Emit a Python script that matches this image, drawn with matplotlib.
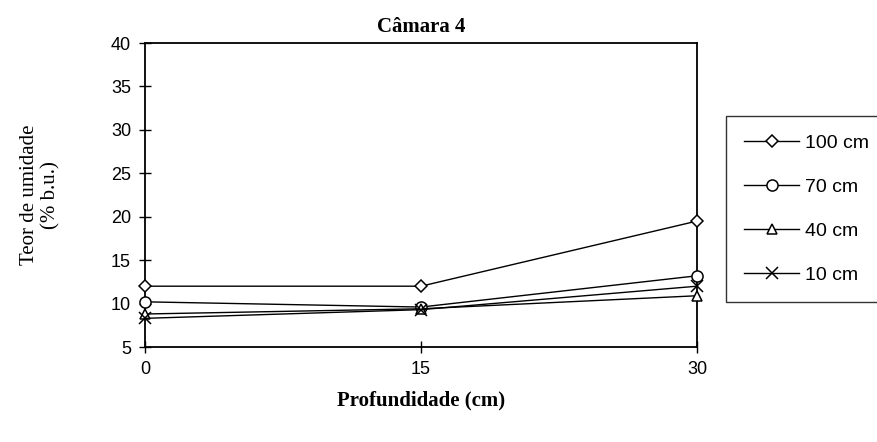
import numpy as np
import matplotlib.pyplot as plt

# dados
profundidade = [0, 15, 30]
series_labels = ['100 cm', '70 cm', '40 cm', '10 cm']
umid_100 = [12.0, 12.0, 19.5]
umid_70 = [10.2, 9.6, 13.2]
umid_40 = [8.8, 9.4, 10.9]
umid_10 = [8.3, 9.3, 12.0]
markers = ['D', 'o', '^', 'x']
marker_sizes = [6, 8, 7, 8]

y_ticks = [5, 10, 15, 20, 25, 30, 35, 40]
x_ticks = [0, 15, 30]

W, H = 877, 442
fig = plt.figure(figsize=(W / 100, H / 100), dpi=100)
ax = fig.add_axes([145 / W, 1 - 347 / H, (697 - 145) / W, (347 - 43) / H])

for vals, lab, mk, ms in zip([umid_100, umid_70, umid_40, umid_10],
                             series_labels, markers, marker_sizes):
    ax.plot(profundidade, vals, color='black', linewidth=1.0, marker=mk,
            markersize=ms, markerfacecolor='white', markeredgecolor='black',
            markeredgewidth=1.1, label=lab, clip_on=False, zorder=3)

ax.set_xlim(0, 30)
ax.set_ylim(5, 40)
ax.set_xticks(x_ticks)
ax.set_yticks(y_ticks)
for s in ax.spines.values():
    s.set_linewidth(1.3)
    s.set_color('black')
ax.tick_params(direction='inout', length=8, width=1.0, labelsize=13,
               pad=6)
for t in ax.get_xticklabels() + ax.get_yticklabels():
    t.set_family('Liberation Sans')

ax.set_title('Câmara 4', family='Liberation Serif', fontweight='bold',
             fontsize=15, pad=8)
ax.set_xlabel('Profundidade (cm)', family='Liberation Serif',
              fontweight='bold', fontsize=15)
ax.xaxis.set_label_coords(0.5, -(390 - 347) / (347 - 43))
ax.set_ylabel('Teor de umidade\n(% b.u.)', family='Liberation Serif',
              fontsize=15, linespacing=1.15)
ax.yaxis.set_label_coords(-(145 - 60) / (697 - 145), 0.5)

leg = fig.legend(loc='lower left', bbox_to_anchor=(726 / W, 1 - 302 / H),
                 frameon=True, fancybox=False, edgecolor='black',
                 handlelength=2.8, handletextpad=0.3, labelspacing=1.35,
                 borderpad=0.95, borderaxespad=0,
                 prop={'family': 'Liberation Sans', 'size': 14})
leg.get_frame().set_linewidth(1.0)

fig.savefig('out.png', dpi=100)
